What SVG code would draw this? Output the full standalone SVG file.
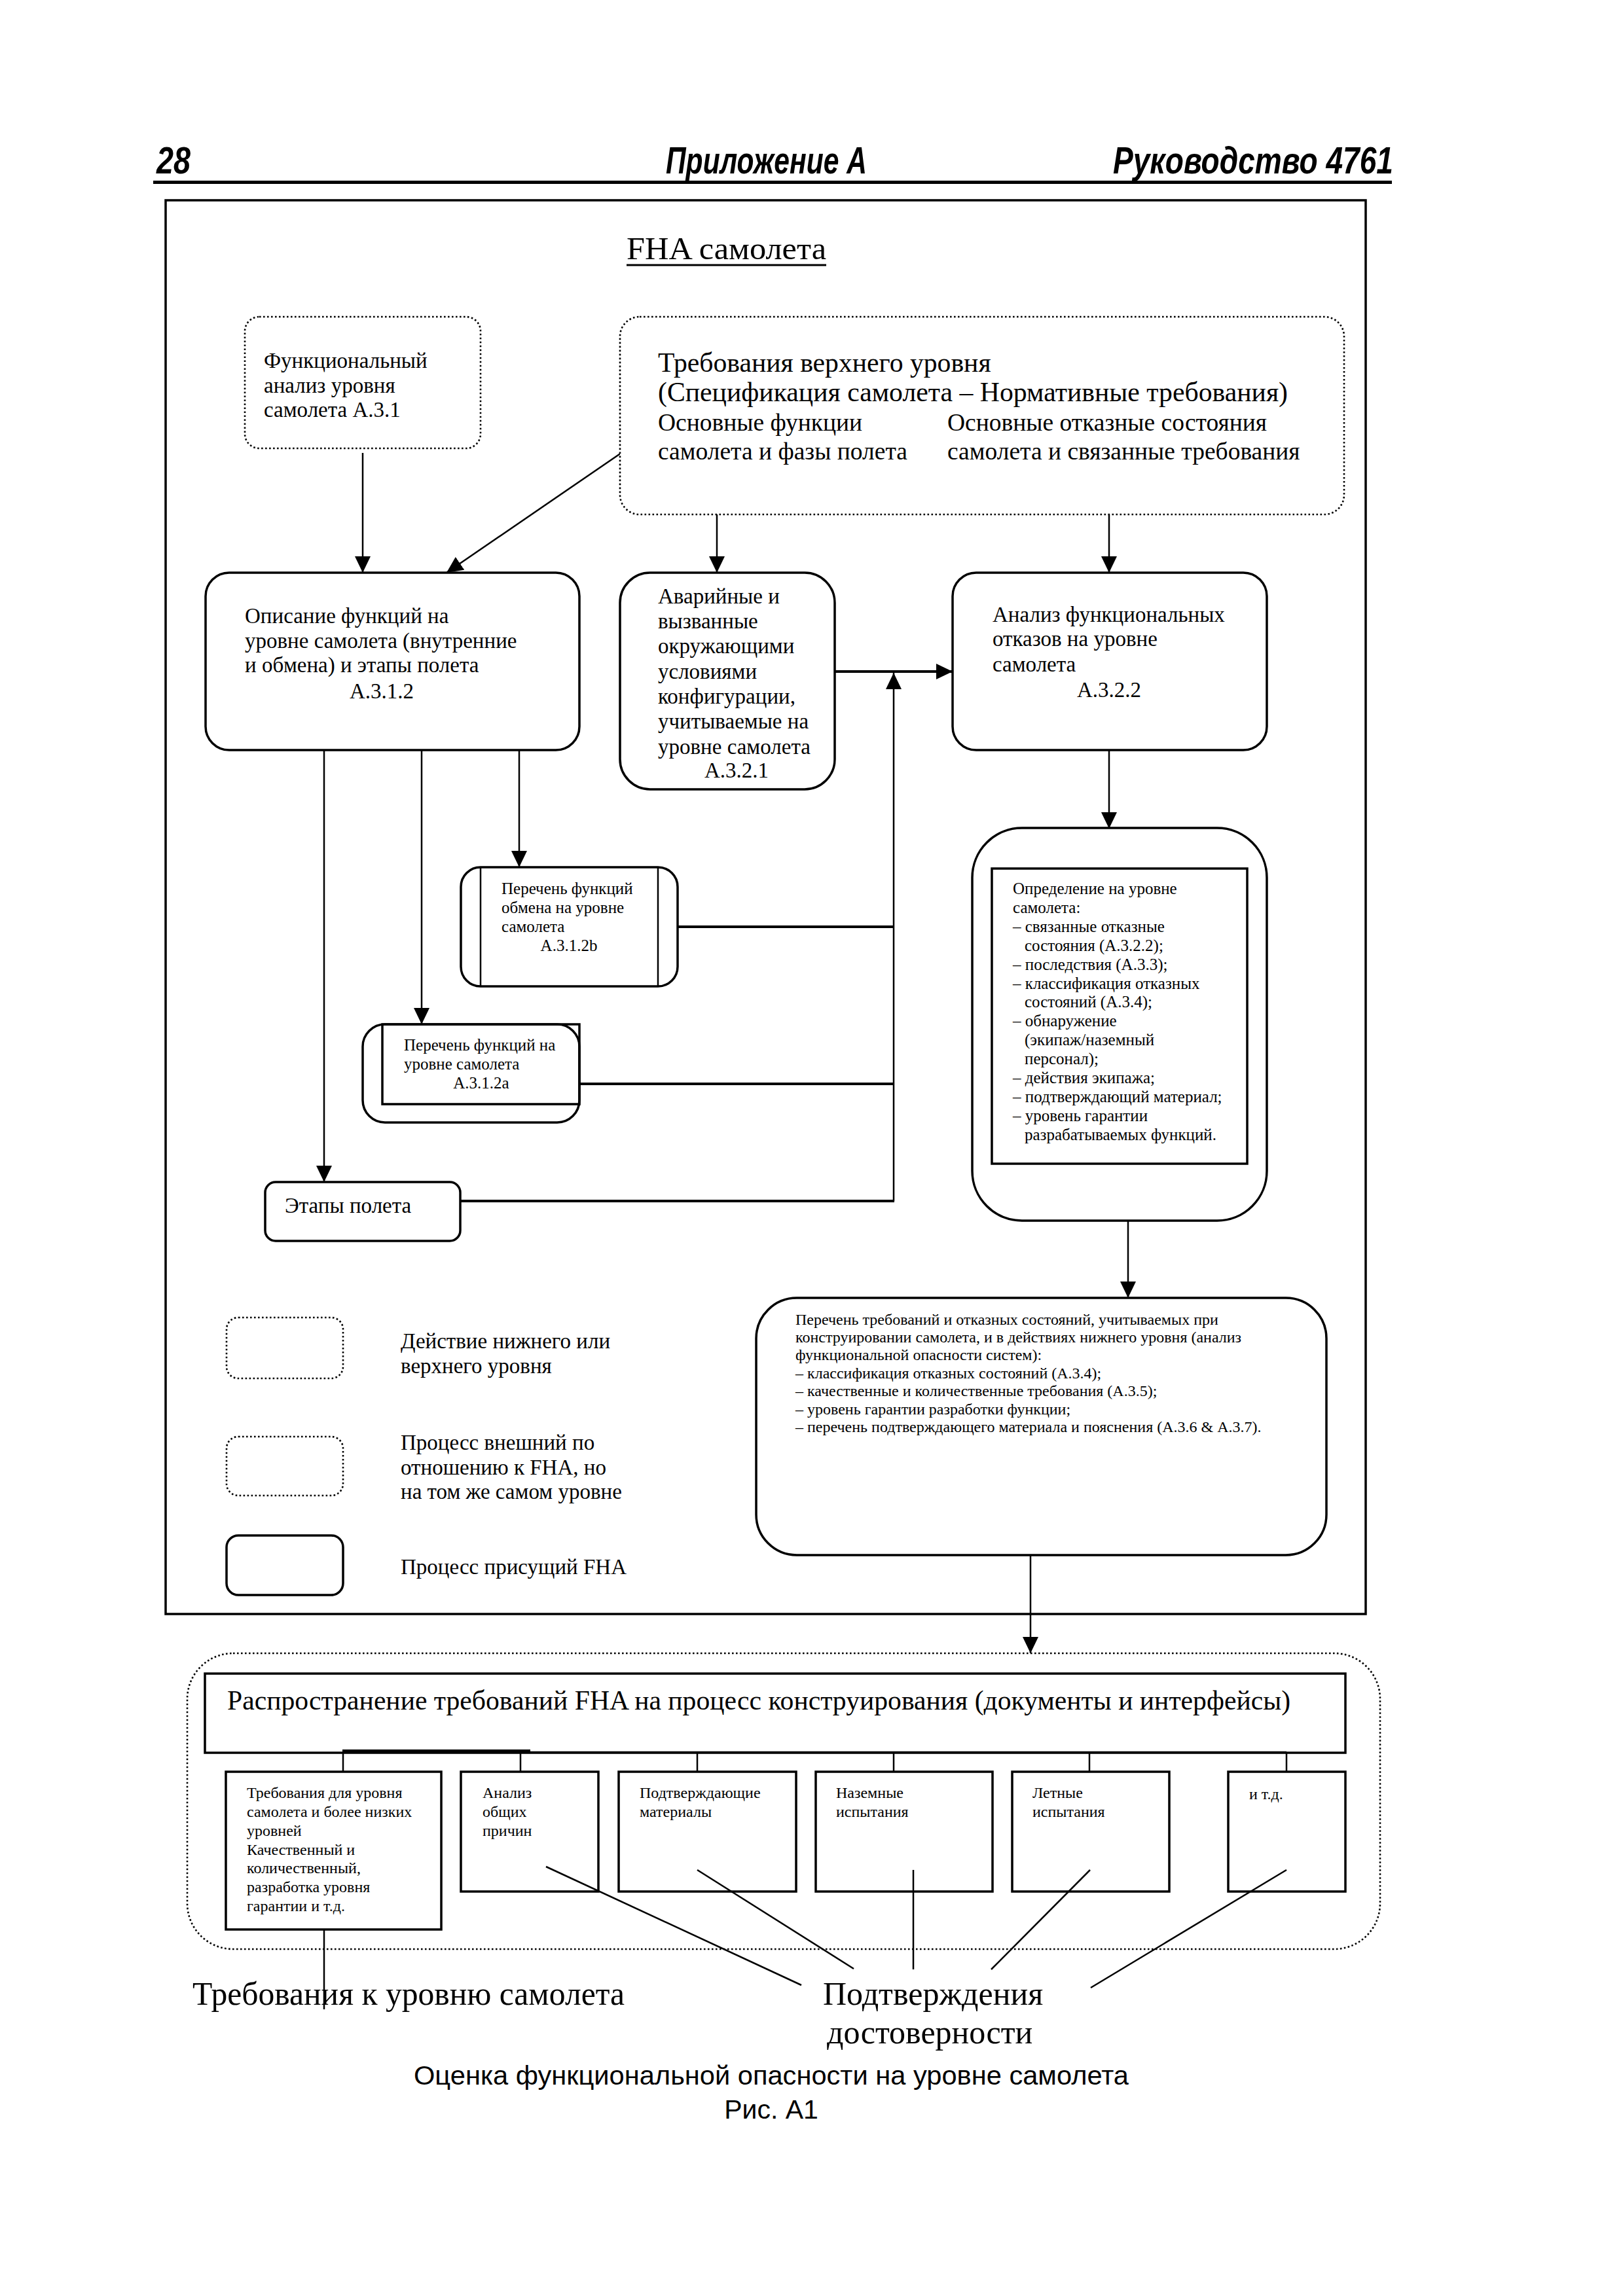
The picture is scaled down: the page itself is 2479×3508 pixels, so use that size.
<svg xmlns="http://www.w3.org/2000/svg" width="2479" height="3508" viewBox="0 0 2479 3508">
<style>
text{font-family:"Liberation Serif","Times New Roman",serif;fill:#000}
.hd{font-family:"Liberation Sans",Arial,sans-serif;font-weight:bold;font-style:italic;font-size:58px}
.cap{font-family:"Liberation Sans",Arial,sans-serif;font-size:41px}
.t50{font-size:50px}
.t48{font-size:48px}
.t42{font-size:41.7px}
.t37{font-size:37.5px}
.t33{font-size:33px}
.t25{font-size:25px}
.t24{font-size:24px}
.solid{fill:#fff;stroke:#000;stroke-width:3.5}
.dot{fill:#fff;stroke:#000;stroke-width:2.6;stroke-dasharray:2.6 3.4}
.ln{fill:none;stroke:#000;stroke-width:2.5}
.thk{fill:none;stroke:#000;stroke-width:4}
.mid{text-anchor:middle}
</style>
<defs>
<marker id="ah" markerUnits="userSpaceOnUse" markerWidth="26" markerHeight="24" refX="25" refY="12" orient="auto"><path d="M0,0 L25,12 L0,24 z" fill="#000"/></marker>
</defs>
<rect x="0" y="0" width="2479" height="3508" fill="#fff"/>

<g id="header">
<text class="hd" x="239" y="265" textLength="52" lengthAdjust="spacingAndGlyphs">28</text>
<text class="hd" x="1017" y="265" textLength="307" lengthAdjust="spacingAndGlyphs">Приложение А</text>
<text class="hd" x="1700" y="265" textLength="428" lengthAdjust="spacingAndGlyphs">Руководство 4761</text>
<line x1="234" y1="278.5" x2="2126" y2="278.5" stroke="#000" stroke-width="5"/>
</g>

<g id="frame">
<rect x="253" y="306" width="1833" height="2160" fill="none" stroke="#000" stroke-width="3.5"/>
<text class="t48" x="957" y="396" textLength="305" lengthAdjust="spacingAndGlyphs">FHA самолета</text>
<line x1="957" y1="405" x2="1262" y2="405" stroke="#000" stroke-width="3"/>
</g>

<g id="connectors">
<line class="ln" x1="554" y1="692" x2="554" y2="875" marker-end="url(#ah)"/>
<line class="ln" x1="949" y1="692" x2="682" y2="875" stroke-width="3" marker-end="url(#ah)"/>
<line class="ln" x1="1095" y1="786" x2="1095" y2="875" marker-end="url(#ah)"/>
<line class="ln" x1="1694" y1="786" x2="1694" y2="875" marker-end="url(#ah)"/>
<line class="thk" x1="1275" y1="1026" x2="1455" y2="1026" marker-end="url(#ah)"/>
<line class="ln" x1="1365" y1="1835" x2="1365" y2="1028" marker-end="url(#ah)"/>
<line class="thk" x1="1035" y1="1416" x2="1366" y2="1416"/>
<line class="thk" x1="885" y1="1656" x2="1366" y2="1656"/>
<line class="thk" x1="703" y1="1835" x2="1366" y2="1835"/>
<line class="ln" x1="495" y1="1146" x2="495" y2="1806" marker-end="url(#ah)"/>
<line class="ln" x1="644" y1="1146" x2="644" y2="1565" marker-end="url(#ah)"/>
<line class="ln" x1="793" y1="1146" x2="793" y2="1325" marker-end="url(#ah)"/>
<line class="ln" x1="1694" y1="1146" x2="1694" y2="1266" marker-end="url(#ah)"/>
<line class="ln" x1="1723" y1="1866" x2="1723" y2="1983" marker-end="url(#ah)"/>
<line class="ln" x1="1574" y1="2376" x2="1574" y2="2526" marker-end="url(#ah)"/>
</g>

<g id="n-func-analysis">
<rect class="dot" x="374" y="484" width="360" height="201" rx="22"/>
<text class="t33" x="403" y="562">Функциональный</text>
<text class="t33" x="403" y="600">анализ уровня</text>
<text class="t33" x="403" y="637">самолета А.3.1</text>
</g>

<g id="n-top-req">
<rect class="dot" x="947" y="484" width="1106" height="302" rx="30"/>
<text class="t42" x="1005" y="568">Требования верхнего уровня</text>
<text class="t42" x="1005" y="613" textLength="962" lengthAdjust="spacingAndGlyphs">(Спецификация самолета – Нормативные требования)</text>
<text class="t37" x="1005" y="658">Основные функции</text>
<text class="t37" x="1005" y="702">самолета и фазы полета</text>
<text class="t37" x="1447" y="658">Основные отказные состояния</text>
<text class="t37" x="1447" y="702">самолета и связанные требования</text>
</g>

<g id="n-func-desc">
<rect class="solid" x="314" y="875" width="571" height="271" rx="36"/>
<text class="t33" x="374" y="952">Описание функций на</text>
<text class="t33" x="374" y="990">уровне самолета (внутренние</text>
<text class="t33" x="374" y="1027">и обмена) и этапы полета</text>
<text class="t33 mid" x="583" y="1067">А.3.1.2</text>
</g>

<g id="n-emergency">
<rect class="solid" x="947" y="875" width="328" height="331" rx="46"/>
<text class="t33" x="1005" y="922">Аварийные и</text>
<text class="t33" x="1005" y="960">вызванные</text>
<text class="t33" x="1005" y="998">окружающими</text>
<text class="t33" x="1005" y="1037">условиями</text>
<text class="t33" x="1005" y="1075">конфигурации,</text>
<text class="t33" x="1005" y="1113">учитываемые на</text>
<text class="t33" x="1005" y="1152">уровне самолета</text>
<text class="t33 mid" x="1125" y="1188">А.3.2.1</text>
</g>

<g id="n-failure-analysis">
<rect class="solid" x="1455" y="875" width="480" height="271" rx="36"/>
<text class="t33" x="1516" y="950">Анализ функциональных</text>
<text class="t33" x="1516" y="987">отказов на уровне</text>
<text class="t33" x="1516" y="1026">самолета</text>
<text class="t33 mid" x="1694" y="1065">А.3.2.2</text>
</g>

<g id="n-exchange-list">
<rect class="solid" x="704" y="1325" width="331" height="182" rx="30"/>
<line class="ln" x1="734" y1="1325" x2="734" y2="1507" stroke-width="3"/>
<line class="ln" x1="1005" y1="1325" x2="1005" y2="1507" stroke-width="3"/>
<text class="t25" x="766" y="1366">Перечень функций</text>
<text class="t25" x="766" y="1395">обмена на уровне</text>
<text class="t25" x="766" y="1424">самолета</text>
<text class="t25 mid" x="869" y="1453">А.3.1.2b</text>
</g>

<g id="n-func-list">
<rect class="solid" x="554" y="1565" width="331" height="150" rx="34"/>
<rect x="584" y="1565" width="301" height="122" fill="none" stroke="#000" stroke-width="3.5"/>
<text class="t25" x="617" y="1605">Перечень функций на</text>
<text class="t25" x="617" y="1634">уровне самолета</text>
<text class="t25 mid" x="735" y="1663">А.3.1.2а</text>
</g>

<g id="n-phases">
<rect class="solid" x="405" y="1806" width="298" height="90" rx="16"/>
<text class="t33" x="435" y="1853">Этапы полета</text>
</g>

<g id="n-definition">
<rect class="solid" x="1485" y="1265" width="450" height="600" rx="76"/>
<rect x="1515" y="1327" width="390" height="451" fill="none" stroke="#000" stroke-width="3.5"/>
<text class="t25" x="1547" y="1366">Определение на уровне</text>
<text class="t25" x="1547" y="1395">самолета:</text>
<text class="t25" x="1547" y="1424">– связанные отказные</text>
<text class="t25" x="1565" y="1453">состояния (А.3.2.2);</text>
<text class="t25" x="1547" y="1482">– последствия (А.3.3);</text>
<text class="t25" x="1547" y="1511">– классификация отказных</text>
<text class="t25" x="1565" y="1539">состояний (А.3.4);</text>
<text class="t25" x="1547" y="1568">– обнаружение</text>
<text class="t25" x="1565" y="1597">(экипаж/наземный</text>
<text class="t25" x="1565" y="1626">персонал);</text>
<text class="t25" x="1547" y="1655">– действия экипажа;</text>
<text class="t25" x="1547" y="1684">– подтверждающий материал;</text>
<text class="t25" x="1547" y="1713">– уровень гарантии</text>
<text class="t25" x="1565" y="1742">разрабатываемых функций.</text>
</g>

<g id="n-req-list">
<rect class="solid" x="1155" y="1983" width="871" height="393" rx="62"/>
<text class="t24" x="1215" y="2024">Перечень требований и отказных состояний, учитываемых при</text>
<text class="t24" x="1215" y="2051">конструировании самолета, и в действиях нижнего уровня (анализ</text>
<text class="t24" x="1215" y="2078">функциональной опасности систем):</text>
<text class="t24" x="1215" y="2106">– классификация отказных состояний (А.3.4);</text>
<text class="t24" x="1215" y="2133">– качественные и количественные требования (А.3.5);</text>
<text class="t24" x="1215" y="2161">– уровень гарантии разработки функции;</text>
<text class="t24" x="1215" y="2188">– перечень подтверждающего материала и пояснения (А.3.6 &amp; А.3.7).</text>
</g>

<g id="legend">
<rect class="dot" x="346" y="2013" width="178" height="93" rx="18"/>
<text class="t33" x="612" y="2060">Действие нижнего или</text>
<text class="t33" x="612" y="2098">верхнего уровня</text>
<rect class="dot" x="346" y="2195" width="178" height="90" rx="18"/>
<text class="t33" x="612" y="2215">Процесс внешний по</text>
<text class="t33" x="612" y="2253">отношению к FHA, но</text>
<text class="t33" x="612" y="2290">на том же самом уровне</text>
<rect class="solid" x="346" y="2346" width="178" height="91" rx="18"/>
<text class="t33" x="612" y="2405">Процесс присущий FHA</text>
</g>

<g id="n-propagation">
<rect class="dot" x="286" y="2526" width="1822" height="452" rx="70"/>
<rect class="solid" x="313" y="2557" width="1742" height="121"/>
<text class="t42" x="347" y="2612" textLength="1624" lengthAdjust="spacingAndGlyphs">Распространение требований FHA на процесс конструирования (документы и интерфейсы)</text>
</g>

<g id="bus">
<line x1="523" y1="2676" x2="810" y2="2676" stroke="#000" stroke-width="6"/>
<line class="ln" x1="523" y1="2677" x2="1965" y2="2677" stroke-width="3"/>
<line class="ln" x1="524" y1="2677" x2="524" y2="2707"/>
<line class="ln" x1="795" y1="2677" x2="795" y2="2707"/>
<line class="ln" x1="1065" y1="2677" x2="1065" y2="2707"/>
<line class="ln" x1="1365" y1="2677" x2="1365" y2="2707"/>
<line class="ln" x1="1664" y1="2677" x2="1664" y2="2707"/>
<line class="ln" x1="1965" y1="2677" x2="1965" y2="2707"/>
</g>

<g id="n-req-levels">
<rect class="solid" x="345" y="2707" width="329" height="241"/>
<text class="t24" x="377" y="2747">Требования для уровня</text>
<text class="t24" x="377" y="2776">самолета и более низких</text>
<text class="t24" x="377" y="2805">уровней</text>
<text class="t24" x="377" y="2834">Качественный и</text>
<text class="t24" x="377" y="2862">количественный,</text>
<text class="t24" x="377" y="2891">разработка уровня</text>
<text class="t24" x="377" y="2920">гарантии и т.д.</text>
</g>
<g id="n-common-cause">
<rect class="solid" x="704" y="2707" width="210" height="183"/>
<text class="t24" x="737" y="2747">Анализ</text>
<text class="t24" x="737" y="2776">общих</text>
<text class="t24" x="737" y="2805">причин</text>
</g>
<g id="n-supporting">
<rect class="solid" x="945" y="2707" width="271" height="183"/>
<text class="t24" x="977" y="2747">Подтверждающие</text>
<text class="t24" x="977" y="2776">материалы</text>
</g>
<g id="n-ground">
<rect class="solid" x="1246" y="2707" width="270" height="183"/>
<text class="t24" x="1277" y="2747">Наземные</text>
<text class="t24" x="1277" y="2776">испытания</text>
</g>
<g id="n-flight">
<rect class="solid" x="1546" y="2707" width="240" height="183"/>
<text class="t24" x="1577" y="2747">Летные</text>
<text class="t24" x="1577" y="2776">испытания</text>
</g>
<g id="n-etc">
<rect class="solid" x="1876" y="2707" width="179" height="183"/>
<text class="t24" x="1908" y="2749">и т.д.</text>
</g>

<g id="pointers">
<line class="ln" x1="495" y1="2948" x2="495" y2="3070" stroke-width="2"/>
<line class="ln" x1="834" y1="2852" x2="1224" y2="3033" stroke-width="3"/>
<line class="ln" x1="1065" y1="2857" x2="1304" y2="3008" stroke-width="3"/>
<line class="ln" x1="1395" y1="2857" x2="1395" y2="3009" stroke-width="3"/>
<line class="ln" x1="1665" y1="2857" x2="1514" y2="3009" stroke-width="3"/>
<line class="ln" x1="1965" y1="2857" x2="1666" y2="3037" stroke-width="3"/>
</g>

<g id="labels">
<text class="t50" x="294" y="3063" textLength="660" lengthAdjust="spacingAndGlyphs">Требования к уровню самолета</text>
<text class="t50" x="1257" y="3063">Подтверждения</text>
<text class="t50" x="1263" y="3122">достоверности</text>
<text class="cap mid" x="1178" y="3185" textLength="1092" lengthAdjust="spacingAndGlyphs">Оценка функциональной опасности на уровне самолета</text>
<text class="cap mid" x="1178" y="3237">Рис. А1</text>
</g>
</svg>
